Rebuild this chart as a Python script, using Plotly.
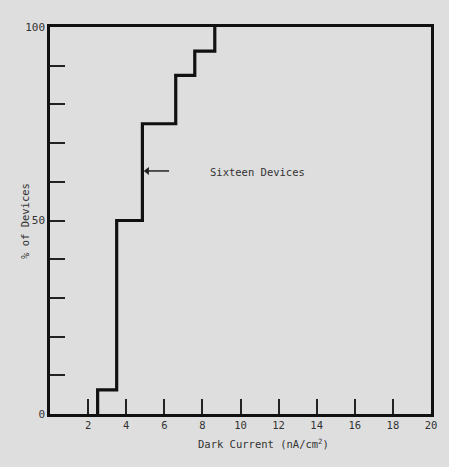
import plotly.graph_objects as go

# Data
current_edges = [2.5, 3.5, 4.85, 6.6, 7.6, 8.65]      # nA/cm^2 step positions
cum_percent = [6.25, 50, 75, 87.5, 93.75, 100]        # cumulative % of devices

x_ticks = [2, 4, 6, 8, 10, 12, 14, 16, 18, 20]
y_label_vals = [0, 50, 100]

annot_text = "Sixteen Devices"
annot_point = (4.85, 62.8)      # where the arrow points (on the step line)

# build step polyline (vertical then horizontal)
xs = [current_edges[0]]
ys = [0]
for i in range(len(current_edges)):
    xs.append(current_edges[i])
    ys.append(cum_percent[i])
    if i + 1 < len(current_edges):
        xs.append(current_edges[i + 1])
        ys.append(cum_percent[i])

font = dict(family="DejaVu Sans Mono", size=10.5, color="#333333")
bg = "#dedede"

fig = go.Figure()
fig.add_trace(go.Scatter(x=xs, y=ys, mode="lines",
                         line=dict(color="#111111", width=3.2),
                         showlegend=False, hoverinfo="skip"))

# arrow (line + head)
ax0 = annot_point[0] + 0.15
ax1 = annot_point[0] + 1.4
fig.add_trace(go.Scatter(x=[ax1, ax0], y=[annot_point[1], annot_point[1]], mode="lines",
                         line=dict(color="#222222", width=1.5),
                         showlegend=False, hoverinfo="skip"))
fig.add_trace(go.Scatter(x=[ax0 + 0.1], y=[annot_point[1]], mode="markers",
                         marker=dict(symbol="triangle-left", size=7, color="#222222"),
                         showlegend=False, hoverinfo="skip"))

fig.update_layout(
    width=449, height=467,
    margin=dict(l=50, r=13, t=27, b=53),
    paper_bgcolor=bg, plot_bgcolor=bg,
    font=font,
    xaxis=dict(range=[0, 20], tickvals=x_ticks, ticktext=[str(v) for v in x_ticks],
               ticks="inside", ticklen=15, tickwidth=2, tickcolor="#222222",
               showline=True, linewidth=2.5, linecolor="#111111", mirror=True,
               showgrid=False, zeroline=False, tickfont=font),
    yaxis=dict(range=[0, 100], tickvals=y_label_vals, ticktext=[str(v) for v in y_label_vals],
               ticks="inside", ticklen=15, tickwidth=2, tickcolor="#222222",
               minor=dict(dtick=10, ticks="inside", ticklen=15, tickwidth=2, tickcolor="#222222",
                          showgrid=False),
               showline=True, linewidth=2.5, linecolor="#111111", mirror=True,
               showgrid=False, zeroline=False,
               tickfont=dict(family="DejaVu Sans Mono", size=11, color="#333333")),
    annotations=[
        dict(x=(210 - 50) / 19.3, y=62.5, xref="x", yref="y", text=annot_text, showarrow=False,
             font=font, xanchor="left", yanchor="middle"),
        dict(x=0.56, y=-0.075, xref="paper", yref="paper", text="Dark Current (nA/cm<sup>2</sup>)",
             showarrow=False, font=font, xanchor="center", yanchor="middle"),
        dict(x=-0.067, y=0.5, xref="paper", yref="paper", text="% of Devices", textangle=-90,
             showarrow=False, font=font, xanchor="center", yanchor="middle"),
    ],
)

fig.write_html("out.html")
